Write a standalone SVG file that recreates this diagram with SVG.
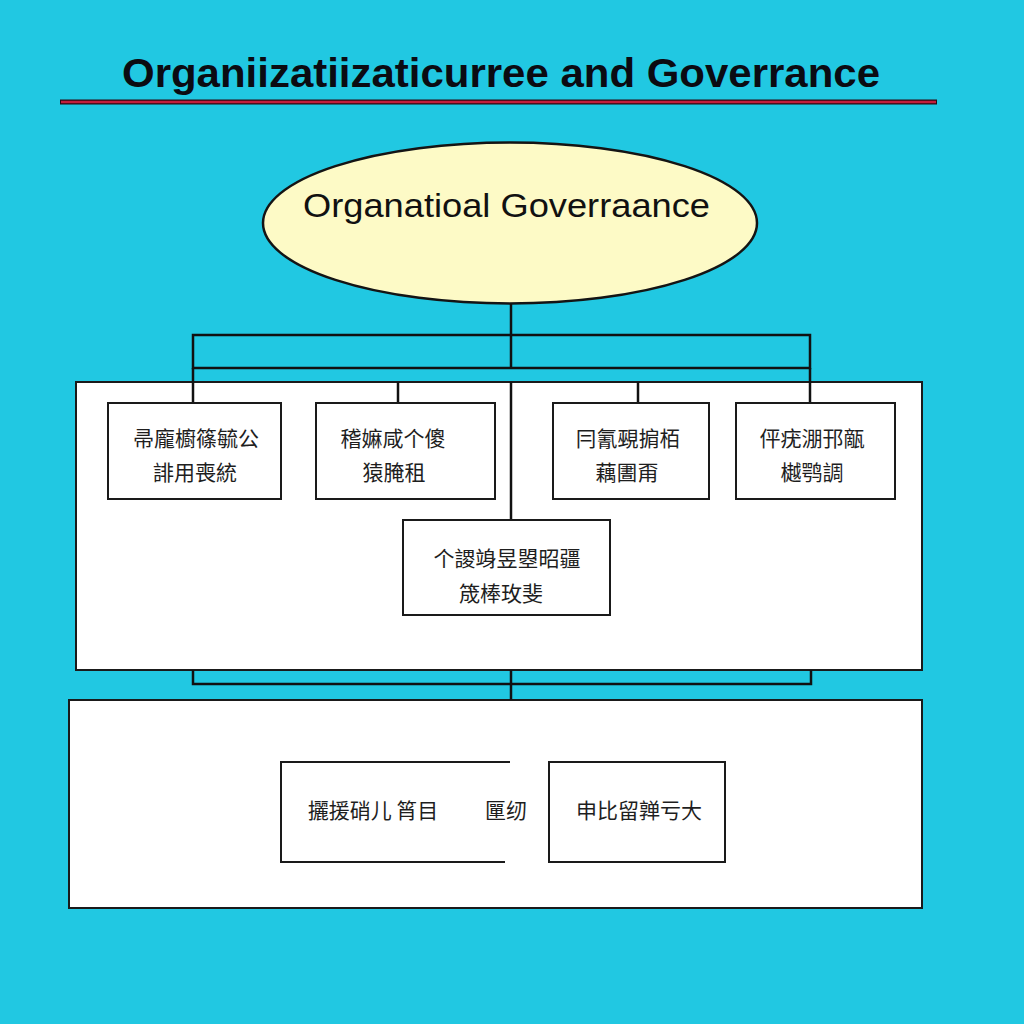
<svg xmlns="http://www.w3.org/2000/svg" width="1024" height="1024" viewBox="0 0 1024 1024">
<style>
.bg{fill:#21c8e2}
.box{fill:#ffffff;stroke:#1a1a1a;stroke-width:2}
.cont{fill:#ffffff;stroke:#1a1a1a;stroke-width:2}
.conn{fill:none;stroke:#111111;stroke-width:2.5}
.cjk{font-family:"Noto Sans CJK SC","Noto Sans CJK JP",sans-serif;font-size:21px;fill:#1e1e1e;text-anchor:middle}
.title{font-family:"Liberation Sans",Arial,sans-serif;font-size:40px;font-weight:bold;fill:#0b0b12}
.etext{font-family:"Liberation Sans",Arial,sans-serif;font-size:34px;fill:#111111}
</style>
<rect class="bg" x="0" y="0" width="1024" height="1024"/>
<g id="title">
<text class="title" x="122" y="87" textLength="758" lengthAdjust="spacingAndGlyphs">Organiizatiizaticurree and Goverrance</text>
<line x1="60" y1="102" x2="937" y2="102" stroke="#2a0a12" stroke-width="5"/>
<line x1="61" y1="102" x2="936" y2="102" stroke="#c21f3c" stroke-width="2.4"/>
</g>
<g id="containers">
<rect id="upper-container" class="cont" x="76" y="382" width="846" height="288"/>
<rect id="lower-container" class="cont" x="69" y="700" width="853" height="208"/>
</g>
<g id="connectors" class="conn">
<line x1="511" y1="303" x2="511" y2="369"/>
<rect x="193" y="335" width="617" height="33"/>
<line x1="193" y1="368" x2="193" y2="382"/>
<line x1="810" y1="368" x2="810" y2="382"/>
<line x1="193" y1="382" x2="193" y2="403"/>
<line x1="398" y1="382" x2="398" y2="403"/>
<line x1="638" y1="382" x2="638" y2="403"/>
<line x1="810" y1="382" x2="810" y2="403"/>
<line x1="511" y1="382" x2="511" y2="520"/>
<polyline points="193,670 193,684 811,684 811,670"/>
<line x1="511" y1="670" x2="511" y2="700"/>
</g>
<g id="root">
<ellipse cx="510" cy="223" rx="247" ry="80.5" fill="#fdfac6" stroke="#141414" stroke-width="2.5"/>
<text class="etext" x="303" y="217" textLength="407" lengthAdjust="spacingAndGlyphs">Organatioal Goverraance</text>
</g>
<g id="node1">
<rect class="box" x="108" y="403" width="173" height="96"/>
<text class="cjk" x="196" y="446">帚龐櫥篠毓公</text>
<text class="cjk" x="195" y="480">誹用喪統</text>
</g>
<g id="node2">
<rect class="box" x="316" y="403" width="179" height="96"/>
<text class="cjk" x="393" y="446">稽嫲咸个傻</text>
<text class="cjk" x="394" y="480">猿腌租</text>
</g>
<g id="node3">
<rect class="box" x="553" y="403" width="156" height="96"/>
<text class="cjk" x="628" y="446">冃氰覡掮栢</text>
<text class="cjk" x="627" y="480">藕圕甭</text>
</g>
<g id="node4">
<rect class="box" x="736" y="403" width="159" height="96"/>
<text class="cjk" x="812" y="446">伻疣淜邘甋</text>
<text class="cjk" x="812" y="480">樾鹗調</text>
</g>
<g id="node5">
<rect class="box" x="403" y="520" width="207" height="95"/>
<text class="cjk" x="507" y="566">个謖竧昱曌昭疆</text>
<text class="cjk" x="501" y="601">筬棒玫斐</text>
</g>
<g id="node6">
<polyline points="510,762 281,762 281,862 505,862" fill="#ffffff" stroke="#1a1a1a" stroke-width="2"/>
<text class="cjk" x="373" y="818">攦援硝儿 筲目</text>
<text class="cjk" x="506" y="818">匰纫</text>
</g>
<g id="node7">
<rect class="box" x="549" y="762" width="176" height="100"/>
<text class="cjk" x="639" y="818">申比留亸亏大</text>
</g>
</svg>
